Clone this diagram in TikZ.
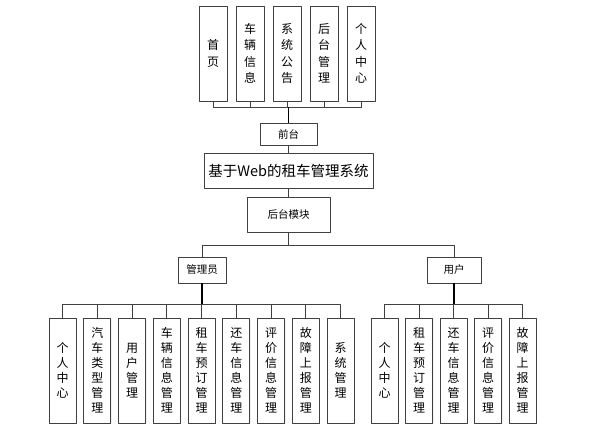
\documentclass[tikz,border=0pt]{standalone}
\usepackage{fontspec}
\setmainfont{Noto Sans CJK SC}
\usetikzlibrary{shadows}
\tikzset{
	box/.style={draw=black!75, line width=0.9pt, fill=white, inner sep=0pt, align=center,
		drop shadow={opacity=0.12, shadow xshift=1pt, shadow yshift=-1pt}},
	topbox/.style={box, minimum width=28pt, minimum height=95pt, font=\fontsize{12}{16.5}\selectfont},
	subbox/.style={box, minimum width=27pt, minimum height=105pt, font=\fontsize{12}{15}\selectfont},
	link/.style={draw=black!75, line width=0.9pt},
	trunk/.style={draw=black, line width=1.2pt},
}
\begin{document}
\begin{tikzpicture}[x=1pt, y=-1pt, line join=round]
	\useasboundingbox (0,0) rectangle (615,437);
	% top row
	\foreach \t [count=\i from 0] in {首\\页, 车\\辆\\信\\息, 系\\统\\公\\告, 后\\台\\管\\理, 个\\人\\中\\心}
		\node[topbox] (t\i) at (213+37*\i,53.5) {\t};
	\node[box, minimum width=57pt, minimum height=22pt, font=\fontsize{10.5}{12}\selectfont] (front) at (288.5,134) {前台};
	\node[box, minimum width=169pt, minimum height=35pt, font=\fontsize{14.5}{18}\selectfont] (title) at (288.5,170.5) {基于Web的租车管理系统};
	\node[box, minimum width=83pt, minimum height=35pt, font=\fontsize{10.5}{12}\selectfont] (back) at (288.5,214.5) {后台模块};
	\node[box, minimum width=48pt, minimum height=26pt, font=\fontsize{10.5}{12}\selectfont] (admin) at (202,270) {管理员};
	\node[box, minimum width=54pt, minimum height=26pt, font=\fontsize{10.5}{12}\selectfont] (user) at (454,270) {用户};
	% bottom rows
	\foreach \t [count=\i from 0] in {个\\人\\中\\心, 汽\\车\\类\\型\\管\\理, 用\\户\\管\\理, 车\\辆\\信\\息\\管\\理, 租\\车\\预\\订\\管\\理, 还\\车\\信\\息\\管\\理, 评\\价\\信\\息\\管\\理, 故\\障\\上\\报\\管\\理, 系\\统\\管\\理}
		\node[subbox] (a\i) at (62.5+34.75*\i,370.5) {\t};
	\foreach \t [count=\i from 0] in {个\\人\\中\\心, 租\\车\\预\\订\\管\\理, 还\\车\\信\\息\\管\\理, 评\\价\\信\\息\\管\\理, 故\\障\\上\\报\\管\\理}
		\node[subbox] (u\i) at (384.5+34.5*\i,370.5) {\t};
	% connectors
	\coordinate (topbus) at (288.5,107);
	\coordinate (midbus) at (288.5,245);
	\coordinate (abus) at (202,304);
	\coordinate (ubus) at (454,304);
	\foreach \i in {0,...,4}
		\draw[link] (t\i.south) |- (topbus);
	\draw[trunk] (topbus) -- (front.north);
	\draw[link] (front.south) -- (title.north);
	\draw[link] (title.south) -- (back.north);
	\draw[link] (back.south) -- (midbus);
	\draw[link] (midbus) -| (admin.north);
	\draw[link] (midbus) -| (user.north);
	\draw[trunk] (admin.south) -- (abus);
	\draw[trunk] (user.south) -- (ubus);
	\foreach \i in {0,...,8}
		\draw[link] (abus) -| (a\i.north);
	\foreach \i in {0,...,4}
		\draw[link] (ubus) -| (u\i.north);
\end{tikzpicture}
\end{document}
